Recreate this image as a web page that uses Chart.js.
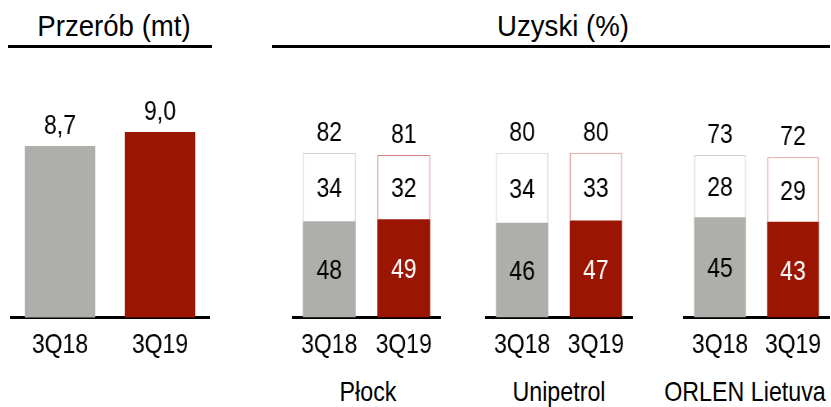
<!DOCTYPE html>
<html>
<head>
<meta charset="utf-8">
<script src="https://cdn.jsdelivr.net/npm/chart.js@4.4.0/dist/chart.umd.min.js"></script>
<style>
  body { margin: 0; width: 831px; height: 407px; background: #fff; position: relative; overflow: hidden;
         font-family: 'Liberation Sans', Arial, sans-serif; color: #000; }
  canvas { position: absolute; top: 0; }
  .title { position: absolute; top: 11px; font-size: 30px; line-height: 30px; white-space: nowrap;
           transform: translateX(-50%) scaleX(0.92); }
  .rule { position: absolute; top: 45px; height: 3px; background: #000; }
  .group { position: absolute; top: 378px; font-size: 28px; line-height: 28px; white-space: nowrap;
           transform: translateX(-50%) scaleX(0.83); }
</style>
</head>
<body>
<div class="title" style="left:114px">Przerób (mt)</div>
<div class="rule" style="left:8px; width:204px"></div>
<div class="title" style="left:563px">Uzyski (%)</div>
<div class="rule" style="left:272px; width:558px"></div>

<canvas id="throughputChart"></canvas>
<canvas id="plockChart"></canvas>
<canvas id="unipetrolChart"></canvas>
<canvas id="lietuvaChart"></canvas>

<div class="group" style="left:368px">Płock</div>
<div class="group" style="left:559px">Unipetrol</div>
<div class="group" style="left:745px">ORLEN Lietuva</div>

<script>
const FONT = "'Liberation Sans', Arial, sans-serif";
const GRAY = '#aeafaa';
const RED = '#9b1503';
// the original uses a narrow typeface: canvases are drawn wider and squeezed back
const SQUEEZE = 0.82;
const CANVAS_H = 373;

const periods = ['3Q18', '3Q19'];
const throughput = [8.7, 9.0];

// yields per refinery: lower (filled) and upper (white) part of each bar
const plockLower = [48, 49];
const plockUpper = [34, 32];
const unipetrolLower = [46, 47];
const unipetrolUpper = [34, 33];
const lietuvaLower = [45, 43];
const lietuvaUpper = [28, 29];

// Draws the numbers inside the segments and the totals above the bars
const valueLabels = {
    id: 'valueLabels',
    afterDatasetsDraw(chart, args, opts) {
        const ctx = chart.ctx;
        const fmt = v => opts.decimals ? v.toFixed(opts.decimals).replace('.', ',') : String(v);
        ctx.save();
        ctx.font = '28px ' + FONT;
        ctx.textAlign = 'center';
        ctx.textBaseline = 'alphabetic';
        const datasets = chart.data.datasets;
        if (opts.inside) {
            datasets.forEach((ds, di) => {
                chart.getDatasetMeta(di).data.forEach((bar, i) => {
                    ctx.fillStyle = ds.labelColors[i];
                    ctx.fillText(fmt(ds.data[i]), bar.x, (bar.y + bar.base) / 2 + 10);
                });
            });
        }
        chart.getDatasetMeta(datasets.length - 1).data.forEach((bar, i) => {
            const total = datasets.reduce((s, ds) => s + ds.data[i], 0);
            ctx.fillStyle = '#000';
            ctx.fillText(fmt(total), bar.x, bar.y - 12);
        });
        ctx.restore();
    }
};

function makeChart(id, left, width, datasets, yMin, yMax, padTop, labelOpts, barPct) {
    const canvas = document.getElementById(id);
    canvas.width = Math.round(width / SQUEEZE);
    canvas.height = CANVAS_H;
    canvas.style.left = left + 'px';
    canvas.style.width = width + 'px';
    canvas.style.height = CANVAS_H + 'px';
    return new Chart(canvas, {
        type: 'bar',
        data: { labels: periods, datasets: datasets },
        options: {
            responsive: false,
            animation: false,
            devicePixelRatio: 1,
            layout: { padding: { top: padTop, left: 0, right: 0, bottom: 0 } },
            plugins: {
                legend: { display: false },
                tooltip: { enabled: false },
                valueLabels: labelOpts,
            },
            scales: {
                x: {
                    stacked: true,
                    grid: { display: false, drawTicks: false },
                    border: { display: true, color: '#000', width: 3 },
                    ticks: {
                        color: '#000', padding: 11, autoSkip: false, maxRotation: 0, minRotation: 0,
                        font: { family: FONT, size: 28 },
                    },
                },
                y: { stacked: true, display: false, min: yMin, max: yMax },
            },
            datasets: { bar: { categoryPercentage: 1, barPercentage: barPct } },
        },
        plugins: [valueLabels],
    });
}

function yieldSets(lower, upper) {
    return [
        {
            data: lower,
            backgroundColor: [GRAY, RED],
            borderWidth: 0,
            labelColors: ['#000', '#fff'],
        },
        {
            data: upper,
            backgroundColor: '#fff',
            borderColor: ['#cfcfcf', '#d4847c'],
            borderWidth: { top: 1, left: 1.3, right: 1.3, bottom: 0 },
            borderSkipped: 'start',
            labelColors: ['#000', '#000'],
        },
    ];
}

makeChart('throughputChart', 10, 200, [{ data: throughput, backgroundColor: [GRAY, RED], borderWidth: 0 }],
    5.06, 10.06, 82, { inside: false, decimals: 1 }, 0.705);
makeChart('plockChart', 292, 149, yieldSets(plockLower, plockUpper), 0, 111, 95, { inside: true }, 0.71);
makeChart('unipetrolChart', 485, 148, yieldSets(unipetrolLower, unipetrolUpper), 0, 108, 95, { inside: true }, 0.71);
makeChart('lietuvaChart', 683, 147, yieldSets(lietuvaLower, lietuvaUpper), 0, 100, 95, { inside: true }, 0.71);
</script>
</body>
</html>
